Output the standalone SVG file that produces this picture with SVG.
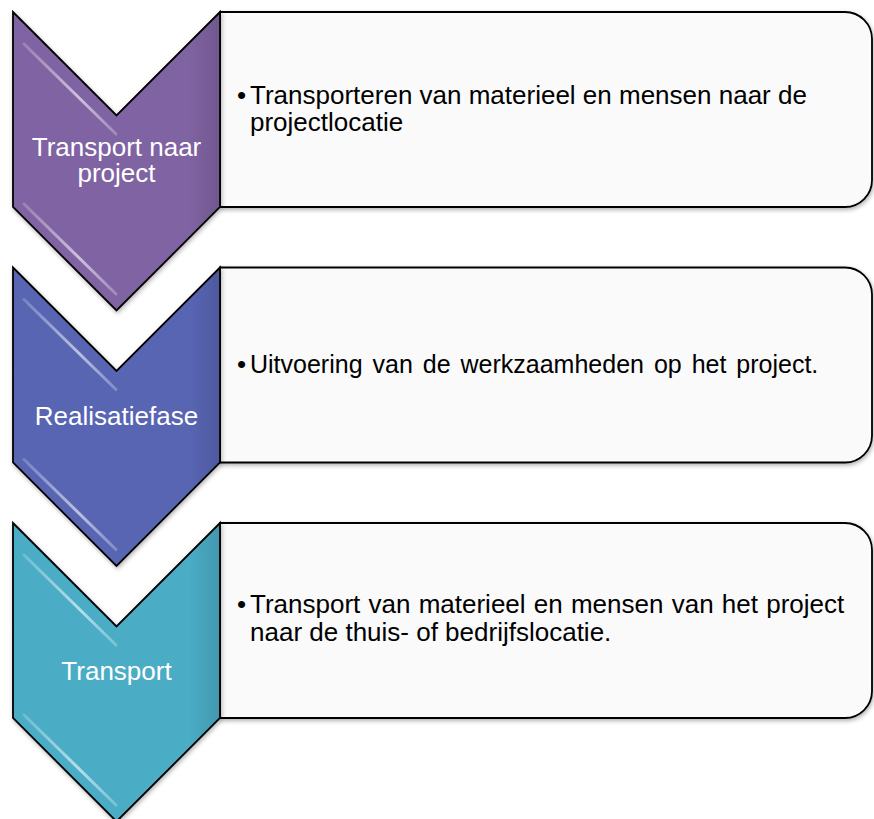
<svg xmlns="http://www.w3.org/2000/svg" width="874" height="819" viewBox="0 0 874 819">
<defs>
<style>
.box{fill:#FAFAFA;stroke:#000;stroke-width:1.8;}
.chev{stroke:#000;stroke-width:1.8;stroke-linejoin:miter;}
.lbl{font-family:"Liberation Sans",Arial,sans-serif;font-size:26px;fill:#FFFFFF;text-anchor:middle;}
.txt{font-family:"Liberation Sans",Arial,sans-serif;font-size:26px;fill:#000000;}
.hl{fill:none;stroke:url(#hlg);stroke-width:3;stroke-linecap:round;}
</style>
<filter id="sh" x="-10%" y="-10%" width="130%" height="130%">
<feDropShadow dx="1" dy="2" stdDeviation="2" flood-color="#000" flood-opacity="0.3"/>
</filter>
<linearGradient id="hlg" x1="0" y1="0" x2="1" y2="0">
<stop offset="0" stop-color="#FFFFFF" stop-opacity="0.2"/>
<stop offset="0.6" stop-color="#FFFFFF" stop-opacity="0.6"/>
<stop offset="1" stop-color="#FFFFFF" stop-opacity="0.25"/>
</linearGradient>
<linearGradient id="shade" x1="0" y1="0" x2="1" y2="0">
<stop offset="0" stop-color="#000" stop-opacity="0"/>
<stop offset="0.85" stop-color="#000" stop-opacity="0"/>
<stop offset="1" stop-color="#000" stop-opacity="0.12"/>
</linearGradient>
<path id="chevShape" d="M13,12 L116.5,115.5 L220,12 L220,207 L116.5,310.5 L13,207 Z"/>
<path id="boxShape" d="M220,12 H845 A27,27 0 0 1 872,39 V180 A27,27 0 0 1 845,207 H220 Z"/>
</defs>
<rect width="874" height="819" fill="#FFFFFF"/>

<g id="box1">
<use href="#boxShape" class="box" filter="url(#sh)"/>
<text class="txt" x="237" y="104">•</text>
<text class="txt" x="250" y="104">Transporteren van materieel en mensen naar de<tspan x="250" y="131">projectlocatie</tspan></text>
</g>
<g id="box2" transform="translate(0,255.5)">
<use href="#boxShape" class="box" filter="url(#sh)"/>
</g>
<g id="box2text">
<text class="txt" x="237" y="373">•</text>
<text class="txt" x="250" y="373" style="font-size:25px;word-spacing:3px">Uitvoering van de werkzaamheden op het project.</text>
</g>
<g id="box3" transform="translate(0,511)">
<use href="#boxShape" class="box" filter="url(#sh)"/>
</g>
<g id="box3text">
<text class="txt" x="237" y="613">•</text>
<text class="txt" x="250" y="613" style="word-spacing:1px">Transport van materieel en mensen van het project<tspan x="250" y="641" style="word-spacing:0">naar de thuis- of bedrijfslocatie.</tspan></text>
</g>

<g id="chevron1">
<use href="#chevShape" class="chev" fill="#8064A2" filter="url(#sh)"/>
<use href="#chevShape" fill="url(#shade)"/>
<polyline class="hl" points="24,44 116,134"/>
<polyline class="hl" points="24,204 116,294"/>
<text class="lbl" x="116.5" y="156">Transport naar<tspan x="116.5" y="182">project</tspan></text>
</g>
<g id="chevron2">
<g transform="translate(0,255.5)">
<use href="#chevShape" class="chev" fill="#5865B3" filter="url(#sh)"/>
<use href="#chevShape" fill="url(#shade)"/>
<polyline class="hl" points="24,44 116,134"/>
<polyline class="hl" points="24,204 116,294"/>
</g>
<text class="lbl" x="116.5" y="425">Realisatiefase</text>
</g>
<g id="chevron3">
<g transform="translate(0,511)">
<use href="#chevShape" class="chev" fill="#4BACC6" filter="url(#sh)"/>
<use href="#chevShape" fill="url(#shade)"/>
<polyline class="hl" points="24,44 116,134"/>
<polyline class="hl" points="24,204 116,294"/>
</g>
<text class="lbl" x="116.5" y="680">Transport</text>
</g>
<g id="connectors"></g>
</svg>
